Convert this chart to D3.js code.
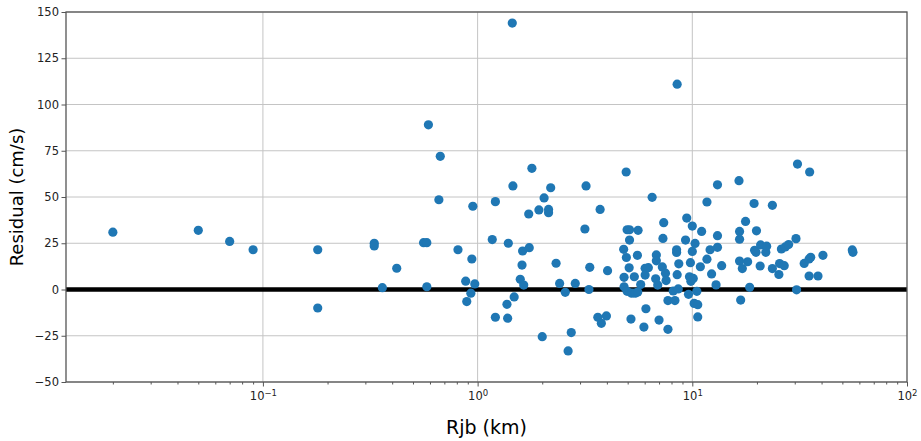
<!DOCTYPE html>
<html>
<head>
<meta charset="utf-8">
<script src="https://cdn.jsdelivr.net/npm/d3@7"></script>
<style>
  body { margin: 0; background: #fff; }
  text { font-family: "DejaVu Sans", sans-serif; }
</style>
</head>
<body>
<div id="chart"></div>
<script>
// Rjb distance (km) and residual (cm/s)
const rjb = [
  0.02, 0.05, 0.07, 0.09, 0.18, 0.18, 0.33, 0.33, 0.36, 0.42,
  0.56, 0.58, 0.58, 0.59, 0.66, 0.67, 0.81, 0.88, 0.89, 0.93,
  0.94, 0.95, 0.97, 1.17, 1.21, 1.21, 1.37, 1.38, 1.39, 1.45,
  1.46, 1.48, 1.58, 1.61, 1.62, 1.64, 1.73, 1.74, 1.79, 1.93,
  2.0, 2.04, 2.14, 2.14, 2.19, 2.32, 2.41, 2.56, 2.64, 2.73,
  2.85, 3.16, 3.2, 3.3, 3.33, 3.63, 3.72, 3.77, 3.98, 4.03,
  4.79, 4.81, 4.81, 4.92, 4.93, 4.97, 4.97, 5.1, 5.1, 5.08,
  5.18, 5.22, 5.37, 5.42, 5.55, 5.57, 5.59, 5.75, 5.95, 6.03,
  6.03, 6.08, 6.24, 6.5, 6.75, 6.8, 6.8, 6.9, 7.0, 7.25,
  7.3, 7.36, 7.5, 7.55, 7.7, 7.7, 8.15, 8.3, 8.45, 8.45,
  8.5, 8.5, 8.6, 8.65, 9.3, 9.42, 9.6, 9.7, 9.8, 9.85,
  10.0, 10.0, 10.1, 10.2, 10.3, 10.5, 10.6, 10.6, 10.9, 11.05,
  11.7, 11.7, 12.1, 12.3, 12.9, 13.1, 13.1, 13.1, 13.7, 16.5,
  16.6, 16.6, 16.6, 16.8, 17.1, 17.7, 18.1, 18.5, 19.4, 19.5,
  19.8, 19.9, 20.7, 20.8, 22.0, 22.2, 23.6, 23.6, 25.3, 25.5,
  26.0, 26.8, 27.1, 28.1, 30.4, 30.6, 30.9, 33.2, 35.0, 35.0,
  35.2, 35.6, 38.5, 40.6, 55.6, 56.0
];
const residual = [
  31, 32, 26, 21.5, 21.5, -10, 25, 23.5, 1, 11.5,
  25.3, 25.3, 1.5, 89, 48.5, 72, 21.5, 4.5, -6.5, -2,
  16.5, 45, 3, 27, 47.5, -15, -8, -15.5, 25, 144,
  56, -4, 5.5, 13.2, 20.8, 2.4, 40.8, 22.6, 65.5, 43,
  -25.5, 49.5, 43.3, 41.5, 55, 14.2, 3.3, -1.5, -33.2, -23.3,
  3.3, 32.7, 56, 0, 12, -15, 43.3, -18.3, -14.3, 10.2,
  21.7, 6.6, 1.5, 63.5, 17.3, 32.3, -1, 32.3, 26.7, 11.7,
  -16, -2, 6.9, -2, 18.5, -1.4, 32, 2.7, -20.3, 11.5,
  7.8, -10.4, 11.8, 49.8, 5.8, 18.7, 15.5, 2.4, -16.5, 12.2,
  27.6, 36.1, 8.8, 4.8, -6, -21.5, -0.8, -6, 21.5, 20,
  8, 111, 0.3, 13.9, 26.7, 38.6, -2.6, 6.9, 14.5, 4.4,
  34.3, 20.6, 6, -7.5, 24.9, -1, -8.2, -14.8, 12.3, 31.4,
  47.3, 16.4, 21.5, 8.4, 2.5, 56.6, 29.1, 22.8, 12.9, 58.8,
  31.4, 27.2, 15.4, -5.7, 11.3, 36.8, 15, 1.2, 46.5, 21.2,
  20.1, 31.7, 12.7, 24.1, 20.1, 23.4, 45.5, 11.3, 8.1, 14,
  21.9, 12.9, 23, 24.3, 27.5, -0.2, 67.8, 14.1, 7.3, 16.5,
  63.5, 17.4, 7.3, 18.5, 21.4, 20.1
];
const xTicks = [0.1, 1, 10, 100];
const xTickExp = ["−1", "0", "1", "2"];
const yTicks = [-50, -25, 0, 25, 50, 75, 100, 125, 150];

const width = 921, height = 441;
const mLeft = 66, mRight = 907, mTop = 12, mBottom = 382;

const x = d3.scaleLog().domain([0.0121, 100]).range([mLeft, mRight]);
const y = d3.scaleLinear().domain([-50, 150]).range([mBottom, mTop]);

const svg = d3.select("#chart").append("svg")
  .attr("width", width)
  .attr("height", height);

// grid
svg.append("g").selectAll("line")
  .data(xTicks.slice(0, 3))
  .enter().append("line")
  .attr("x1", d => x(d)).attr("x2", d => x(d))
  .attr("y1", mTop).attr("y2", mBottom)
  .attr("stroke", "#c4c4c4").attr("stroke-width", 1);

svg.append("g").selectAll("line")
  .data(yTicks)
  .enter().append("line")
  .attr("x1", mLeft).attr("x2", mRight)
  .attr("y1", d => y(d)).attr("y2", d => y(d))
  .attr("stroke", "#c4c4c4").attr("stroke-width", 1);

// zero line
svg.append("line")
  .attr("x1", mLeft).attr("x2", mRight)
  .attr("y1", y(0)).attr("y2", y(0))
  .attr("stroke", "#000").attr("stroke-width", 4.6);

// points
svg.append("g").selectAll("circle")
  .data(rjb)
  .enter().append("circle")
  .attr("cx", d => x(d))
  .attr("cy", (d, i) => y(residual[i]))
  .attr("r", 4.6)
  .attr("fill", "#1f77b4");

// frame
svg.append("rect")
  .attr("x", mLeft).attr("y", mTop)
  .attr("width", mRight - mLeft).attr("height", mBottom - mTop)
  .attr("fill", "none").attr("stroke", "#555").attr("stroke-width", 1.3);

// y axis
const yAxis = svg.append("g")
  .attr("transform", `translate(${mLeft},0)`)
  .call(d3.axisLeft(y).tickValues(yTicks).tickSize(4.5).tickPadding(2.5).tickFormat(d3.format("d")));
yAxis.select(".domain").remove();
yAxis.selectAll("line").attr("stroke", "#555");
yAxis.selectAll("text").style("font-size", "11.5px").attr("fill", "#222");

// x axis major
const xAxis = svg.append("g")
  .attr("transform", `translate(0,${mBottom})`)
  .call(d3.axisBottom(x).tickValues(xTicks).tickSize(4.5).tickPadding(5).tickFormat(() => ""));
xAxis.select(".domain").remove();
xAxis.selectAll("line").attr("stroke", "#555");
xAxis.selectAll("text")
  .style("font-size", "11.5px").attr("fill", "#222")
  .each(function(d, i) {
    const t = d3.select(this);
    t.append("tspan").text("10");
    t.append("tspan").text(xTickExp[i]).attr("dy", "-0.45em").style("font-size", "8.5px");
  });

// x axis minor
const minor = x.ticks().filter(d => Math.abs(Math.log10(d) - Math.round(Math.log10(d))) > 1e-6);
const xMinor = svg.append("g")
  .attr("transform", `translate(0,${mBottom})`)
  .call(d3.axisBottom(x).tickValues(minor).tickSize(2.5).tickFormat(() => ""));
xMinor.select(".domain").remove();
xMinor.selectAll("line").attr("stroke", "#555");

// axis labels
svg.append("text")
  .attr("x", (mLeft + mRight) / 2)
  .attr("y", 434)
  .attr("text-anchor", "middle")
  .style("font-size", "19px")
  .text("Rjb (km)");

svg.append("text")
  .attr("transform", `translate(23,${(mTop + mBottom) / 2}) rotate(-90)`)
  .attr("text-anchor", "middle")
  .style("font-size", "18px")
  .text("Residual (cm/s)");
</script>
</body>
</html>
